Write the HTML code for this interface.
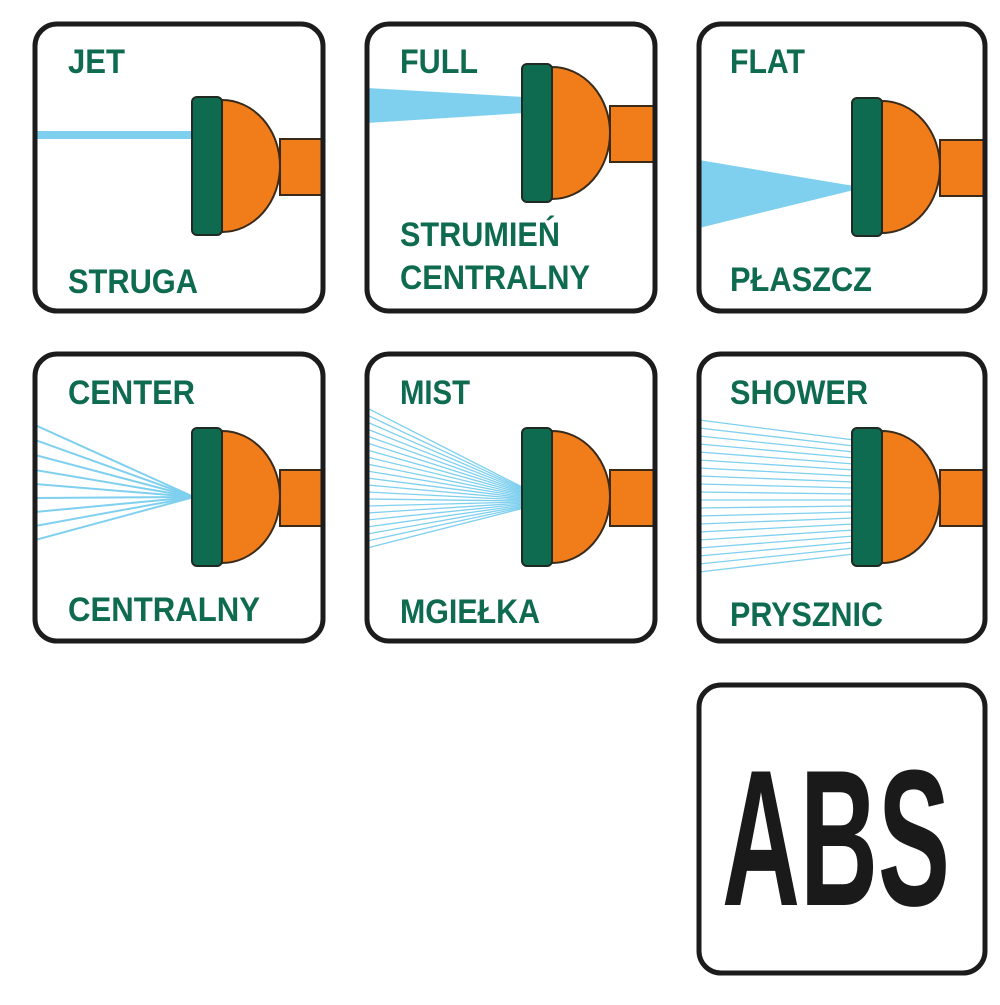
<!DOCTYPE html>
<html><head><meta charset="utf-8"><style>html,body{margin:0;padding:0;background:#fff}</style></head><body>
<svg width="1000" height="1000" viewBox="0 0 1000 1000" xmlns="http://www.w3.org/2000/svg">
<defs>
<g id="noz">
  <rect x="88" y="42" width="80" height="56" fill="#f07d1a" stroke="#3a2a1a" stroke-width="2"/>
  <path d="M30,3 A58,66 0 0 1 30,135 Z" fill="#f07d1a" stroke="#3a2a1a" stroke-width="2"/>
  <rect x="0" y="0" width="30" height="138" rx="5" fill="#0f6b4f" stroke="#1e2a22" stroke-width="2"/>
</g>
<clipPath id="c1"><rect x="35" y="24" width="288" height="287" rx="22"/></clipPath>
<clipPath id="c2"><rect x="367" y="24" width="288" height="287" rx="22"/></clipPath>
<clipPath id="c3"><rect x="699" y="24" width="286" height="287" rx="22"/></clipPath>
<clipPath id="c4"><rect x="35" y="354" width="288" height="287" rx="22"/></clipPath>
<clipPath id="c5"><rect x="367" y="354" width="288" height="287" rx="22"/></clipPath>
<clipPath id="c6"><rect x="699" y="354" width="286" height="287" rx="22"/></clipPath>
</defs>
<g fill="#fff">
<rect x="35" y="24" width="288" height="287" rx="22"/>
<rect x="367" y="24" width="288" height="287" rx="22"/>
<rect x="699" y="24" width="286" height="287" rx="22"/>
</g>
<!-- JET -->
<g clip-path="url(#c1)">
<rect x="35" y="131" width="160" height="8" fill="#7fd0ef"/>
<use href="#noz" x="192" y="97"/>
</g>
<!-- FULL -->
<g clip-path="url(#c2)">
<polygon points="367,88 524,97 524,113 367,123" fill="#7fd0ef"/>
<use href="#noz" x="522" y="64"/>
</g>
<!-- FLAT -->
<g clip-path="url(#c3)">
<polygon points="699,160 854,186 854,190 699,228" fill="#7fd0ef"/>
<use href="#noz" x="852" y="98"/>
</g>
<!-- CENTER -->
<g clip-path="url(#c4)" stroke="#7fd0ef" stroke-width="2">
<line x1="35" y1="425" x2="194" y2="497"/><line x1="35" y1="440" x2="194" y2="497"/>
<line x1="35" y1="455" x2="194" y2="497"/><line x1="35" y1="470" x2="194" y2="497"/>
<line x1="35" y1="484" x2="194" y2="497"/><line x1="35" y1="498" x2="194" y2="497"/>
<line x1="35" y1="512" x2="194" y2="497"/><line x1="35" y1="526" x2="194" y2="497"/>
<line x1="35" y1="540" x2="194" y2="497"/>
<use href="#noz" x="192" y="428" stroke="none"/>
</g>
<!-- MIST -->
<g clip-path="url(#c5)" stroke="#7fd0ef" stroke-width="1.3">
<line x1="367" y1="408" x2="524" y2="488"/><line x1="367" y1="415" x2="524" y2="489"/>
<line x1="367" y1="422" x2="524" y2="490"/><line x1="367" y1="429" x2="524" y2="491"/>
<line x1="367" y1="436" x2="524" y2="492"/><line x1="367" y1="443" x2="524" y2="493"/>
<line x1="367" y1="450" x2="524" y2="494"/><line x1="367" y1="457" x2="524" y2="495"/>
<line x1="367" y1="464" x2="524" y2="496"/><line x1="367" y1="471" x2="524" y2="497"/>
<line x1="367" y1="478" x2="524" y2="498"/><line x1="367" y1="485" x2="524" y2="499"/>
<line x1="367" y1="492" x2="524" y2="500"/><line x1="367" y1="499" x2="524" y2="501"/>
<line x1="367" y1="506" x2="524" y2="502"/><line x1="367" y1="513" x2="524" y2="503"/>
<line x1="367" y1="520" x2="524" y2="504"/><line x1="367" y1="527" x2="524" y2="505"/>
<line x1="367" y1="534" x2="524" y2="506"/><line x1="367" y1="541" x2="524" y2="507"/>
<line x1="367" y1="548" x2="524" y2="508"/>
<use href="#noz" x="522" y="428" stroke="none"/>
</g>
<!-- SHOWER -->
<g clip-path="url(#c6)" stroke="#7fd0ef" stroke-width="1.3">
<line x1="699" y1="420" x2="854" y2="440"/><line x1="699" y1="428" x2="854" y2="446"/>
<line x1="699" y1="436" x2="854" y2="452"/><line x1="699" y1="444" x2="854" y2="458"/>
<line x1="699" y1="452" x2="854" y2="464"/><line x1="699" y1="460" x2="854" y2="470"/>
<line x1="699" y1="468" x2="854" y2="476"/><line x1="699" y1="476" x2="854" y2="482"/>
<line x1="699" y1="484" x2="854" y2="488"/><line x1="699" y1="492" x2="854" y2="494"/>
<line x1="699" y1="500" x2="854" y2="500"/><line x1="699" y1="508" x2="854" y2="506"/>
<line x1="699" y1="516" x2="854" y2="512"/><line x1="699" y1="524" x2="854" y2="518"/>
<line x1="699" y1="532" x2="854" y2="524"/><line x1="699" y1="540" x2="854" y2="530"/>
<line x1="699" y1="548" x2="854" y2="536"/><line x1="699" y1="556" x2="854" y2="542"/>
<line x1="699" y1="564" x2="854" y2="548"/><line x1="699" y1="572" x2="854" y2="554"/>
<use href="#noz" x="852" y="428" stroke="none"/>
</g>
<!-- borders -->
<g fill="none" stroke="#1c1c1c" stroke-width="5">
<rect x="35" y="24" width="288" height="287" rx="22"/>
<rect x="367" y="24" width="288" height="287" rx="22"/>
<rect x="699" y="24" width="286" height="287" rx="22"/>
<rect x="35" y="354" width="288" height="287" rx="22"/>
<rect x="367" y="354" width="288" height="287" rx="22"/>
<rect x="699" y="354" width="286" height="287" rx="22"/>
<rect x="699" y="685" width="286" height="288" rx="22"/>
</g>
<g font-family="Liberation Sans, sans-serif" font-weight="bold" fill="#0e6b50" font-size="34" lengthAdjust="spacingAndGlyphs">
<text x="68" y="73" textLength="57" lengthAdjust="spacingAndGlyphs">JET</text>
<text x="68" y="293" textLength="130" lengthAdjust="spacingAndGlyphs">STRUGA</text>
<text x="400" y="73" textLength="78" lengthAdjust="spacingAndGlyphs">FULL</text>
<text x="400" y="246" textLength="160" lengthAdjust="spacingAndGlyphs">STRUMIEŃ</text>
<text x="400" y="289" textLength="190" lengthAdjust="spacingAndGlyphs">CENTRALNY</text>
<text x="730" y="73" textLength="75" lengthAdjust="spacingAndGlyphs">FLAT</text>
<text x="730" y="291" textLength="142" lengthAdjust="spacingAndGlyphs">PŁASZCZ</text>
<text x="68" y="404" textLength="127" lengthAdjust="spacingAndGlyphs">CENTER</text>
<text x="68" y="621" textLength="192" lengthAdjust="spacingAndGlyphs">CENTRALNY</text>
<text x="400" y="404" textLength="70" lengthAdjust="spacingAndGlyphs">MIST</text>
<text x="400" y="623" textLength="140" lengthAdjust="spacingAndGlyphs">MGIEŁKA</text>
<text x="730" y="404" textLength="138" lengthAdjust="spacingAndGlyphs">SHOWER</text>
<text x="730" y="626" textLength="153" lengthAdjust="spacingAndGlyphs">PRYSZNIC</text>
</g>
<text x="722" y="905" font-family="Liberation Sans, sans-serif" font-weight="bold" font-size="194" fill="#1a1a1a" textLength="228" lengthAdjust="spacingAndGlyphs">ABS</text>
</svg>
</body></html>
